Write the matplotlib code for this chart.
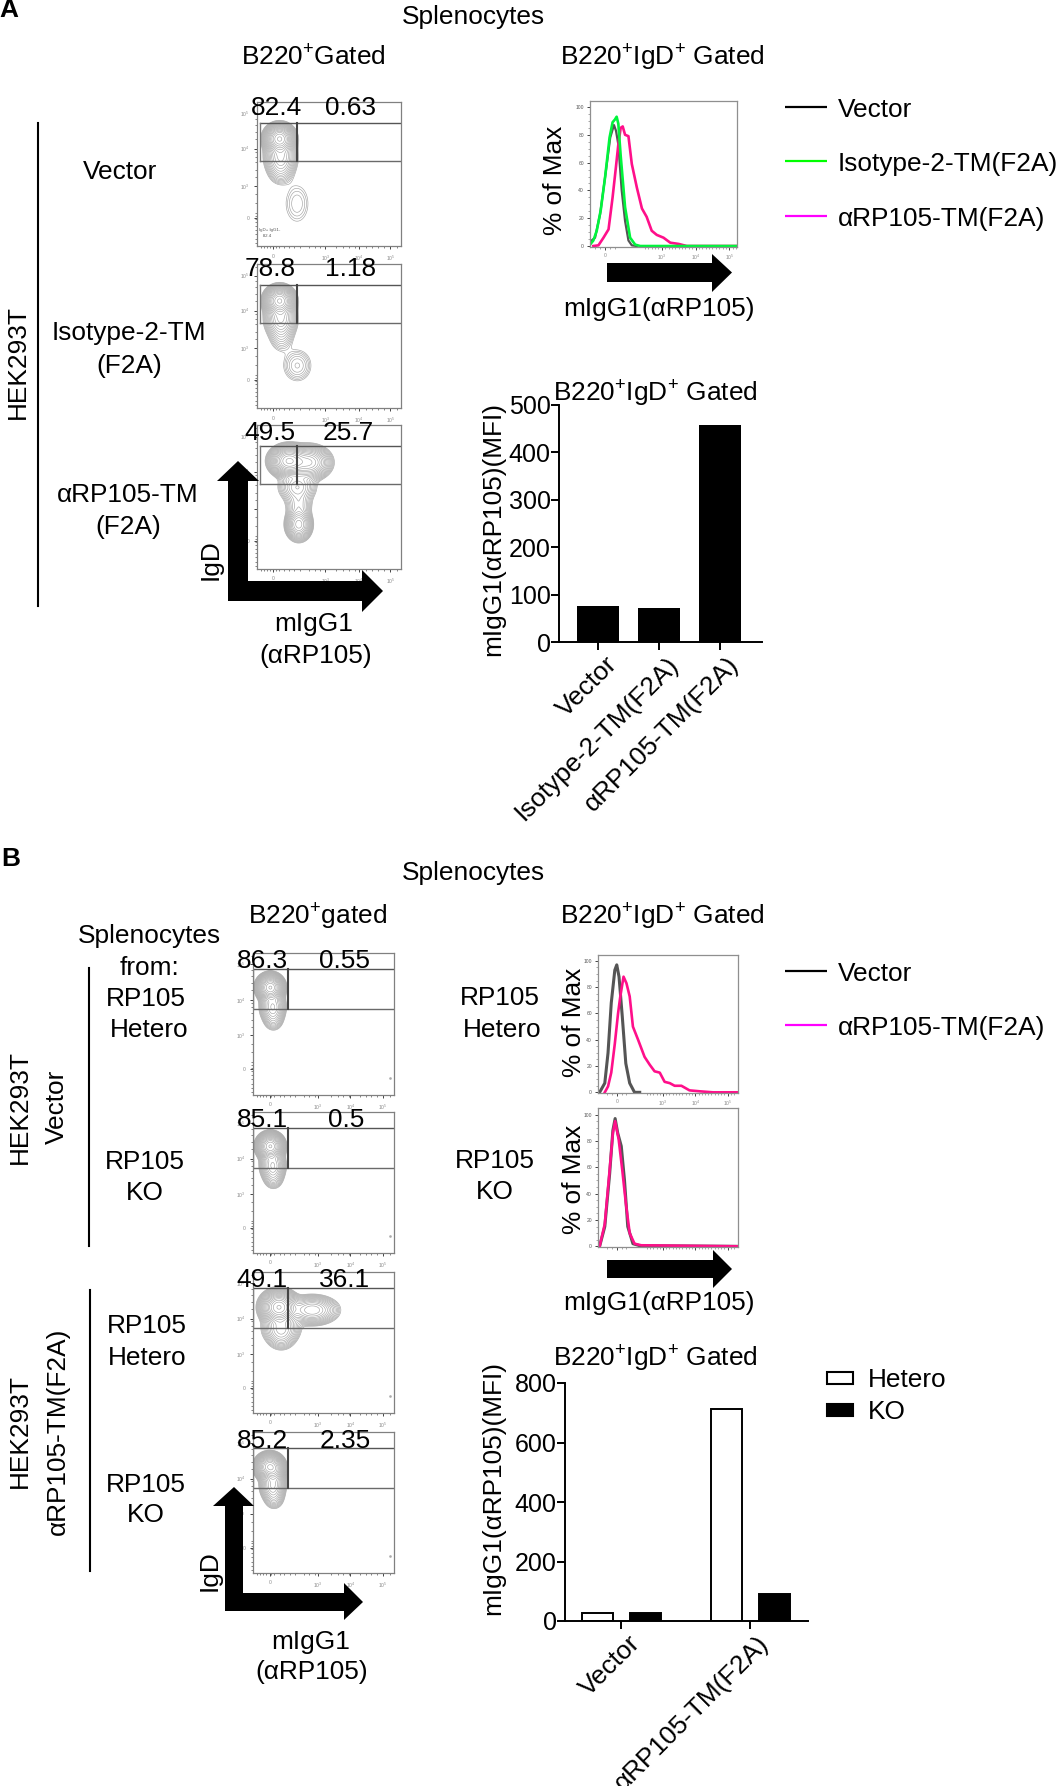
#!/usr/bin/env python
# -*- coding: utf-8 -*-

"""
Splenocyte FACS panels, histograms and MFI bars (panels A and B)
"""

import numpy as np
import matplotlib
matplotlib.use('Agg')
import matplotlib.pyplot as plt
from matplotlib.patches import Polygon, Rectangle
from matplotlib.transforms import ScaledTranslation

plt.rcParams['font.family'] = ['Liberation Sans', 'DejaVu Sans']
plt.rcParams['mathtext.fontset'] = 'custom'
plt.rcParams['mathtext.rm'] = 'Liberation Sans'
plt.rcParams['mathtext.default'] = 'regular'

W, H = 1059, 1786

#==============================================================================
# data

# bars
bar_a_labels = ['Vector', 'Isotype-2-TM(F2A)', 'αRP105-TM(F2A)']
bar_a_values = [75, 72, 458]
bar_b_labels = ['Vector', 'αRP105-TM(F2A)']
bar_b_hetero = [28, 714]
bar_b_ko = [26, 91]

# histogram A, x in decades, y in % of max
a_black_x = [.87, 1.02, 1.17, 1.32, 1.47, 1.58, 1.64, 1.71, 1.81, 1.91, 2.01, 2.11, 2.26]
a_black_y = [3, 6, 23, 50, 78, 87, 83, 73, 40, 18, 4, .5, 0]
a_green_x = [.87, .97, 1.07, 1.19, 1.32, 1.45, 1.54, 1.61, 1.66, 1.71, 1.78, 1.91, 2.06, 2.21, 2.36, 5.23]
a_green_y = [1, 4, 11, 26, 50, 78, 89, 91, 93, 88, 65, 28, 6, 1, 0, 0]
a_pink_x = [.97, 1.12, 1.27, 1.42, 1.54, 1.64, 1.71, 1.78, 1.84, 1.91, 2.01, 2.11, 2.26, 2.41,
			2.55, 2.70, 2.85, 3.05, 3.25, 3.50, 3.74, 5.23]
a_pink_y = [0, .5, 6, 12, 35, 57, 73, 85, 86, 80, 79, 59, 42, 27, 21, 11, 8, 6, 2.4, 1.5, 0, 0]

# histograms B
b1_black_x = [1.04, 1.20, 1.30, 1.40, 1.51, 1.57, 1.64, 1.74, 1.85, 1.97, 2.12, 2.28]
b1_black_y = [0, 7, 30, 68, 93, 97, 88, 58, 22, 7, 0, 0]
b1_pink_x = [1.20, 1.30, 1.40, 1.51, 1.61, 1.68, 1.78, 1.87, 1.97, 2.07, 2.23, 2.43, 2.59, 2.74,
			 2.90, 3.05, 3.21, 3.36, 3.57, 3.82, 4.13, 4.55, 5.32]
b1_pink_y = [0, 4.5, 15, 37, 60, 73, 88, 83, 73, 50, 40, 27, 21, 16, 15, 8, 7, 5, 5, 1.5, .8, 0, 0]
b2_black_x = [1.04, 1.20, 1.35, 1.45, 1.52, 1.60, 1.71, 1.81, 1.91, 2.07, 2.28, 5.32]
b2_black_y = [0, 15, 55, 88, 97, 86, 76, 50, 15, 2, .5, 0]
b2_pink_x = [1.04, 1.20, 1.35, 1.45, 1.52, 1.63, 1.74, 1.85, 1.97, 2.12, 2.33, 5.32]
b2_pink_y = [0, 17, 58, 86, 95, 81, 58, 33, 10, 2, .8, 0]

# cell populations: x, y, sx, sy, weight (panel fractions)
pop_a1 = [(.157, .745, .044, .043, 1), (.165, .62, .05, .06, .25), (.165, .52, .045, .05, .06),
		  (.278, .294, .056, .09, .03)]
pop_a2 = [(.157, .745, .044, .043, 1), (.165, .62, .05, .06, .25), (.17, .5, .045, .06, .05),
		  (.28, .295, .056, .063, .05)]
pop_a3 = [(.22, .75, .055, .045, 1), (.36, .74, .065, .05, .5), (.28, .57, .06, .05, .15),
		  (.29, .45, .045, .05, .08), (.29, .31, .04, .05, .35)]
pop_b1 = [(.123, .757, .04, .04, 1), (.14, .62, .04, .05, .25), (.145, .53, .035, .04, .06)]
pop_b2 = [(.123, .757, .04, .04, 1), (.14, .62, .04, .05, .25), (.145, .53, .035, .04, .06)]
pop_b3 = [(.184, .75, .055, .05, 1), (.42, .73, .08, .045, .3), (.2, .6, .06, .05, .2),
		  (.2, .53, .05, .045, .06)]
pop_b4 = [(.118, .753, .042, .04, 1), (.16, .72, .03, .04, .2), (.14, .62, .04, .05, .25),
		  (.15, .53, .035, .04, .06)]

numbers_a = [('82.4', '0.63'), ('78.8', '1.18'), ('49.5', '25.7')]
numbers_b = [('86.3', '0.55'), ('85.1', '0.5'), ('49.1', '36.1'), ('85.2', '2.35')]

#==============================================================================

FS = 18.9
BLACK = '#000000'
GREEN = '#00f53c'
PINK = '#ff0f8a'
GREY = '#8a8a8a'


def panel(x0, y0, x1, y1):

	return plt.gcf().add_axes([x0 / W, 1 - y1 / H, (x1 - x0) / W, (y1 - y0) / H])


def frame(ax, colour='#808080'):

	for s in ax.spines.values():
		s.set_color(colour)
		s.set_linewidth(.9)


def facs(box, pops, gate, div, first):

	ax = panel(*box)
	grid_x, grid_y = np.meshgrid(np.linspace(0, 1, 300), np.linspace(0, 1, 300))
	dens = np.zeros_like(grid_x)

	for x, y, sx, sy, w in pops:
		dens += w * np.exp(-((grid_x - x) / sx) ** 2 / 2 - ((grid_y - y) / sy) ** 2 / 2)

	levels = np.geomspace(.012, .97, 20)
	ax.contour(grid_x, grid_y, dens, levels=levels, colors='#a4a4a4', linewidths=.45)

	ax.plot([gate[2], 1], [gate[0], gate[0]], color='#6a6a6a', lw=1.0)
	ax.plot([gate[2], 1], [gate[1], gate[1]], color='#555555', lw=1.0)
	ax.plot([gate[2], gate[2]], gate[:2], color='#777777', lw=1.0)
	ax.plot([div, div], gate[:2], color='#444444', lw=1.5)

	ax.set_xlim(0, 1)
	ax.set_ylim(0, 1)
	ax.set_xticks(first['xt'])
	ax.set_xticklabels(['0', '10$^{3}$', '10$^{4}$', '10$^{5}$'], fontsize=3.6, color=GREY)
	ax.set_yticks(first['yt'])
	ax.set_yticklabels(['0', '10$^{3}$', '10$^{4}$', '10$^{5}$'], fontsize=3.6, color=GREY)
	ax.set_xticks(first['xm'], minor=True)
	ax.set_yticks(first['ym'], minor=True)
	ax.tick_params(length=2.4, width=.7, color='#444444', pad=3)
	ax.tick_params(which='minor', length=1.3, width=.5, color='#555555')
	frame(ax)

	return ax


def histo(box, xlim, ylim, xzero, series, labels=True):

	ax = panel(*box)

	for x, y, c, lw in series:
		ax.plot(x, y, color=c, lw=lw, solid_joinstyle='round')

	ax.set_xlim(*xlim)
	ax.set_ylim(*ylim)
	ax.set_yticks([0, 20, 40, 60, 80, 100])
	ax.set_yticklabels(['0', '20', '40', '60', '80', '100'], fontsize=3.6, color='#555555')
	ax.set_xticks([xzero, 3, 4, 5])
	ax.set_xticklabels(['0', '10$^{3}$', '10$^{4}$', '10$^{5}$'] if labels else ['', '', '', ''],
					   fontsize=3.6, color=GREY)
	ax.set_yticks(np.arange(0, 101, 5), minor=True)
	ax.set_xticks(np.r_[xzero - .3, xzero - .15, xzero + .15, xzero + .3, np.arange(2.5, 5.3, .1)], minor=True)
	ax.tick_params(length=2.4, width=.7, color='#444444', pad=2)
	ax.tick_params(which='minor', length=1.2, width=.4, color='#666666')
	frame(ax, '#8f8f8f')

	return ax


def prism_axes(box):

	ax = panel(*box)
	ax.spines['top'].set_visible(False)
	ax.spines['right'].set_visible(False)
	ax.spines['left'].set_linewidth(1.4)
	ax.spines['bottom'].set_linewidth(1.4)
	ax.tick_params(axis='y', length=6, width=1.4, labelsize=18, pad=0)
	ax.tick_params(axis='x', length=5.5, width=1.4, labelsize=FS, pad=4)

	return ax


def shift_labels(ax, dx, dy):

	# rotated labels end a little right of their tick in the original
	off = ScaledTranslation(dx / 100., dy / 100., plt.gcf().dpi_scale_trans)

	for lab in ax.get_xticklabels():
		lab.set_transform(lab.get_transform() + off)


def arrow_h(over, x0, x1, xb, ys, yh):

	ym = (ys[0] + ys[1]) / 2.
	over.add_patch(Polygon([(x0, ys[0]), (xb, ys[0]), (xb, yh[0]), (x1, ym), (xb, yh[1]),
							(xb, ys[1]), (x0, ys[1])], fc='k', ec='none'))


def arrow_l(over, tip, base, xs, xh, bottom, ys, xb, xtip, yh):

	xm = tip
	over.add_patch(Polygon([(xm, base[0]), (xh[1], base[1]), (xs[1], base[1]), (xs[1], ys[0]),
							(xb, ys[0]), (xb, yh[0]), (xtip, (ys[0] + ys[1]) / 2.), (xb, yh[1]),
							(xb, ys[1]), (xs[0], ys[1]), (xs[0], base[1]), (xh[0], base[1])],
						   fc='k', ec='none'))


def txt(over, x, y, s, **kw):

	kw.setdefault('fontsize', FS)
	if 'rotation' not in kw:
		y = y + 2
	over.text(x, y, s, ha='center', va='center', **kw)


def main():

	fig = plt.figure(figsize=(W / 100., H / 100.), dpi=100, facecolor='white')

	# FACS panels A
	tick_a = {'xt': [.11, .475, .706, .926], 'yt': [.197, .414, .676, .92],
			  'xm': list(np.r_[.03, .05, .07, .09, .13, .15, .19, .22, .26, .3, .36, .4, .44, .55, .6, .64, .68,
								.76, .8, .84, .88, .97]),
			  'ym': list(np.r_[.02, .05, .08, .11, .14, .17, .19, .21, .23, .3, .36, .48, .53, .58, .62, .65, .74,
								.79, .84, .88, .98])}
	tick_b = {'xt': [.12, .46, .69, .92], 'yt': [.18, .42, .67, .92],
			  'xm': tick_a['xm'], 'ym': tick_a['ym']}

	ax = facs((257, 102, 401, 246), pop_a1, (.59, .854, .02), .278, tick_a)
	ax.text(.015, .06, 'IgD+ IgG1-\n   82.4', fontsize=3.2, color='#555555', transform=ax.transAxes,
			linespacing=1.8)
	facs((257, 264, 401, 408), pop_a2, (.59, .854, .02), .278, tick_a)
	facs((257, 425, 401, 569), pop_a3, (.59, .854, .02), .278, tick_a)

	# FACS panels B
	for box, pops in [((253, 953, 394, 1095), pop_b1), ((253, 1112, 394, 1253), pop_b2),
					  ((253, 1272, 394, 1413), pop_b3), ((253, 1432, 394, 1573), pop_b4)]:
		ax = facs(box, pops, (.605, .885, 0), .25, tick_b)
		ax.plot([.97], [.12], 's', ms=.8, color='#aaaaaa')

	# histograms
	histo((590, 101, 737, 247), (.87, 5.23), (-.7, 104.3), 1.32,
		  [(a_black_x, a_black_y, '#555555', 1.6), (a_pink_x, a_pink_y, PINK, 1.9),
		   (a_green_x, a_green_y, GREEN, 1.9)])
	histo((598, 955, 738, 1093), (.99, 5.32), (-.5, 104.5), 1.57,
		  [(b1_black_x, b1_black_y, '#555555', 2.2), (b1_pink_x, b1_pink_y, PINK, 1.9)])
	histo((598, 1108, 738, 1247), (.99, 5.32), (-.5, 105), 1.57,
		  [(b2_black_x, b2_black_y, '#555555', 2.2), (b2_pink_x, b2_pink_y, PINK, 1.9)], labels=False)

	# bars A
	ax = prism_axes((559, 405, 762, 642))
	ax.bar(range(3), bar_a_values, width=.7, color='k')
	ax.set_xlim(-.64, 2.69)
	ax.set_ylim(0, 500)
	ax.set_yticks([0, 100, 200, 300, 400, 500])
	ax.set_xticks(range(3))
	ax.set_xticklabels(bar_a_labels, rotation=45, ha='right', rotation_mode='anchor')
	shift_labels(ax, 7, 3)

	# bars B
	ax = prism_axes((565, 1383, 808, 1621))
	pos = np.arange(2)
	ax.bar(pos - .186, bar_b_hetero, width=.245, fc='w', ec='k', lw=1.4)
	ax.bar(pos + .186, bar_b_ko, width=.245, fc='k', ec='k', lw=1.4)
	ax.set_xlim(-.438, 1.446)
	ax.set_ylim(0, 800)
	ax.set_yticks([0, 200, 400, 600, 800])
	ax.set_xticks(pos)
	ax.set_xticklabels(bar_b_labels, rotation=45, ha='right', rotation_mode='anchor')
	shift_labels(ax, 6, 3)

	# everything that sits on the page itself, in pixel coordinates
	over = fig.add_axes([0, 0, 1, 1], zorder=10)
	over.set_xlim(0, W)
	over.set_ylim(H, 0)
	over.axis('off')

	txt(over, 9, 8, 'A', fontweight='bold')
	txt(over, 11, 857, 'B', fontweight='bold')
	txt(over, 473, 15, 'Splenocytes')
	txt(over, 473, 871, 'Splenocytes')
	txt(over, 313, 56, 'B220$^{+}$Gated')
	txt(over, 662, 56, 'B220$^{+}$IgD$^{+}$ Gated')
	txt(over, 318, 915, 'B220$^{+}$gated')
	txt(over, 662, 915, 'B220$^{+}$IgD$^{+}$ Gated')
	txt(over, 655, 392, 'B220$^{+}$IgD$^{+}$ Gated')
	txt(over, 655, 1357, 'B220$^{+}$IgD$^{+}$ Gated')

	# left labels A
	txt(over, 120, 170, 'Vector')
	txt(over, 129, 331, 'Isotype-2-TM')
	txt(over, 129, 364, '(F2A)')
	txt(over, 128, 493, 'αRP105-TM')
	txt(over, 128, 525, '(F2A)')
	txt(over, 18, 362, 'HEK293T', rotation=90)
	over.plot([38, 38], [123, 606], color='k', lw=1.5)
	txt(over, 211, 560, 'IgD', rotation=90)
	txt(over, 314, 622, 'mIgG1')
	txt(over, 316, 654, '(αRP105)')

	# numbers on the FACS plots
	for (left, right), y, xl, xr in zip(numbers_a, [106, 267, 431], [277, 270, 270], [350, 351, 348]):
		txt(over, xl, y, left)
		txt(over, xr, y, right)

	for (left, right), y, xr in zip(numbers_b, [959, 1118, 1278, 1439], [345, 346, 345, 345]):
		txt(over, 262, y, left)
		txt(over, xr, y, right)

	# left labels B
	txt(over, 149, 934, 'Splenocytes')
	txt(over, 149, 966, 'from:')
	txt(over, 146, 997, 'RP105')
	txt(over, 149, 1028, 'Hetero')
	txt(over, 145, 1160, 'RP105')
	txt(over, 145, 1191, 'KO')
	txt(over, 147, 1324, 'RP105')
	txt(over, 147, 1356, 'Hetero')
	txt(over, 146, 1483, 'RP105')
	txt(over, 146, 1513, 'KO')
	txt(over, 20, 1107, 'HEK293T', rotation=90)
	txt(over, 57, 1107, 'Vector', rotation=90)
	txt(over, 20, 1431, 'HEK293T', rotation=90)
	txt(over, 58, 1431, 'αRP105-TM(F2A)', rotation=90)
	over.plot([89, 89], [968, 1246], color='k', lw=1.5)
	over.plot([90, 90], [1290, 1571], color='k', lw=1.5)
	txt(over, 210, 1571, 'IgD', rotation=90)
	txt(over, 311, 1640, 'mIgG1')
	txt(over, 312, 1670, '(αRP105)')

	# histogram labels
	txt(over, 555, 180, '% of Max', rotation=90)
	txt(over, 574, 1022, '% of Max', rotation=90)
	txt(over, 574, 1179, '% of Max', rotation=90)
	txt(over, 659, 307, 'mIgG1(αRP105)')
	txt(over, 659, 1301, 'mIgG1(αRP105)')
	txt(over, 500, 996, 'RP105')
	txt(over, 502, 1028, 'Hetero')
	txt(over, 495, 1159, 'RP105')
	txt(over, 495, 1190, 'KO')

	# bar y labels
	txt(over, 493, 529, 'mIgG1(αRP105)(MFI)', rotation=90)
	txt(over, 493, 1488, 'mIgG1(αRP105)(MFI)', rotation=90)

	# legends
	for y, c, s in [(107, 'k', 'Vector'), (161, '#00ff00', 'Isotype-2-TM(F2A)'), (216, '#ff00ff', 'αRP105-TM(F2A)'),
					(971, 'k', 'Vector'), (1025, '#ff00ff', 'αRP105-TM(F2A)')]:
		over.plot([785, 827], [y, y], color=c, lw=1.6, solid_capstyle='butt')
		over.text(838, y + 3, s, fontsize=FS, ha='left', va='center')

	over.add_patch(Rectangle((827, 1372), 26, 12, fc='w', ec='k', lw=1.5))
	over.add_patch(Rectangle((827, 1404), 26, 12, fc='k', ec='k', lw=1.5))
	over.text(868, 1380, 'Hetero', fontsize=FS, ha='left', va='center')
	over.text(868, 1412, 'KO', fontsize=FS, ha='left', va='center')

	# thick arrows
	arrow_h(over, 607, 732, 712, (263, 282), (254, 292))
	arrow_h(over, 607, 732, 713, (1260, 1278), (1250, 1288))
	arrow_l(over, 238, (461, 481), (228, 248), (217, 259), 601, (581, 601), 362, 383, (570, 612))
	arrow_l(over, 234, (1487, 1506), (225, 243), (213, 254), 1611, (1593, 1611), 344, 363, (1583, 1620))

	fig.savefig('out.png', dpi=100)


if __name__ == "__main__":

	main()
